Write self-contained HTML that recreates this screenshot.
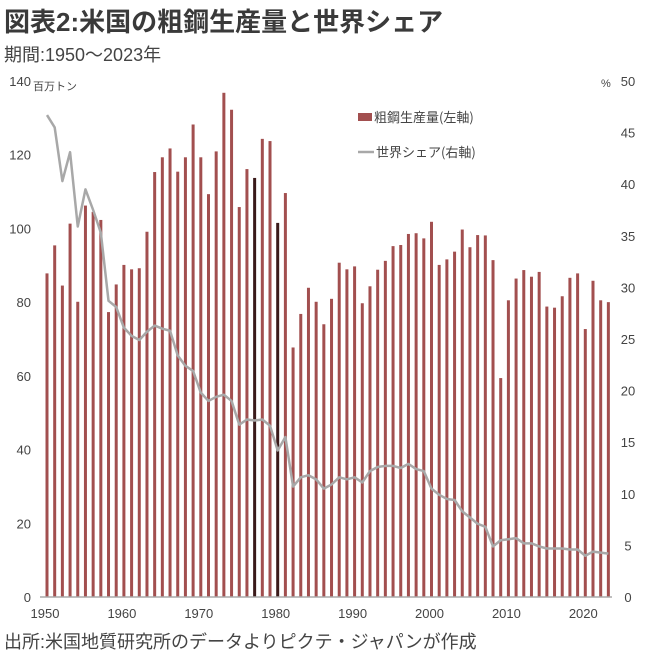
<!DOCTYPE html>
<html><head><meta charset="utf-8"><style>
body{margin:0;background:#fff;width:651px;height:661px;overflow:hidden;font-family:"Liberation Sans","Noto Sans CJK JP",sans-serif;color:#333}
.t{position:absolute;white-space:nowrap}
</style></head><body>
<div class="t" style="left:4px;top:2px;font-size:26px;font-weight:bold;color:#3a3a3a">図表2:米国の粗鋼生産量と世界シェア</div>
<div class="t" style="left:4px;top:41px;font-size:18px;color:#444">期間:1950～2023年</div>
<div class="t" style="left:4px;top:628px;font-size:18px;color:#444">出所:米国地質研究所のデータよりピクテ・ジャパンが作成</div>
<svg id="c" width="651" height="661" style="position:absolute;left:0;top:0"></svg>
<script>
const years=[];for(let y=1950;y<=2023;y++)years.push(y);
const production=[87.8,95.4,84.5,101.3,80.1,106.2,104.5,102.3,77.3,84.8,90.1,88.9,89.2,99.1,115.3,119.3,121.7,115.4,119.3,128.2,119.3,109.3,120.9,136.8,132.2,105.8,116.1,113.7,124.3,123.7,101.5,109.6,67.7,76.8,83.9,80.1,74.0,80.9,90.7,88.9,89.7,79.7,84.3,88.8,91.2,95.2,95.5,98.5,98.7,97.3,101.8,90.1,91.6,93.7,99.7,94.9,98.2,98.1,91.4,59.4,80.5,86.4,88.7,86.9,88.2,78.8,78.5,81.6,86.6,87.8,72.7,85.8,80.5,80.0];
const share=[46.7,45.5,40.3,43.1,35.9,39.5,37.5,35.3,28.7,28.1,26.1,25.3,24.9,25.7,26.3,26.0,25.8,23.4,22.4,21.9,19.8,19.0,19.4,19.6,19.0,16.7,17.2,17.1,17.2,16.6,14.2,15.5,10.7,11.6,11.8,11.4,10.5,10.9,11.6,11.4,11.6,11.1,12.2,12.6,12.7,12.7,12.5,12.9,12.4,12.2,10.5,9.9,9.5,9.4,8.3,7.7,7.1,6.8,4.9,5.5,5.6,5.7,5.2,5.2,4.9,4.7,4.7,4.7,4.6,4.6,4.0,4.4,4.3,4.2];
const leftTicks=[0,20,40,60,80,100,120,140];
const rightTicks=[0,5,10,15,20,25,30,35,40,45,50];
const xTicks=[1950,1960,1970,1980,1990,2000,2010,2020];
const X0=47,DX=7.69,Y0=597,YT=81;
const x=y=>X0+(y-1950)*DX;
const yL=v=>Y0-(v/140)*(Y0-YT);
const yR=v=>Y0-(v/50)*(Y0-YT);
const s=document.getElementById('c');const NS='http://www.w3.org/2000/svg';
function mk(t,a,txt){const e=document.createElementNS(NS,t);for(const k in a)e.setAttribute(k,a[k]);if(txt!=null)e.textContent=txt;s.appendChild(e);return e;}
years.forEach((yr,i)=>{const c=(yr===1977||yr===1980)?'#3a1a1a':'#a24f4f';
const b=mk('rect',{x:x(yr)-1.5,y:yL(production[i]),width:3,height:Y0-yL(production[i]),fill:c});

});
const ax=mk('line',{x1:40,x2:612,y1:Y0,y2:Y0,stroke:'#aaa','stroke-width':1.5});


const ln=mk('polyline',{points:years.map((yr,i)=>x(yr)+','+yR(share[i])).join(' '),fill:'none',stroke:'#a8a8a8','stroke-width':2.5,'stroke-linejoin':'round'});


leftTicks.forEach(v=>{const t=mk('text',{x:31,y:yL(v)+5,'text-anchor':'end','font-size':13,fill:'#444','font-family':'Liberation Sans, sans-serif'},v);

});
rightTicks.forEach(v=>{const t=mk('text',{x:628,y:yR(v)+5,'text-anchor':'middle','font-size':13,fill:'#444','font-family':'Liberation Sans, sans-serif'},v);

});
xTicks.forEach(v=>{const t=mk('text',{x:x(v)-2,y:618,'text-anchor':'middle','font-size':13,fill:'#444','font-family':'Liberation Sans, sans-serif'},v);

});
const u=mk('text',{x:33,y:90,'font-size':11,fill:'#444','font-family':'Noto Sans CJK JP, sans-serif'},'百万トン');


const p=mk('text',{x:601,y:87,'font-size':11,fill:'#444'},'%');


const l1=mk('rect',{x:358,y:113,width:14,height:8,fill:'#a24f4f'});


const t1=mk('text',{x:374,y:122,'font-size':13,fill:'#444','font-family':'Noto Sans CJK JP, sans-serif'},'粗鋼生産量(左軸)');


const l2=mk('line',{x1:358,x2:374,y1:152,y2:152,stroke:'#a8a8a8','stroke-width':2.5});


const t2=mk('text',{x:376,y:157,'font-size':13,fill:'#444','font-family':'Noto Sans CJK JP, sans-serif'},'世界シェア(右軸)');


</script>
</body></html>
